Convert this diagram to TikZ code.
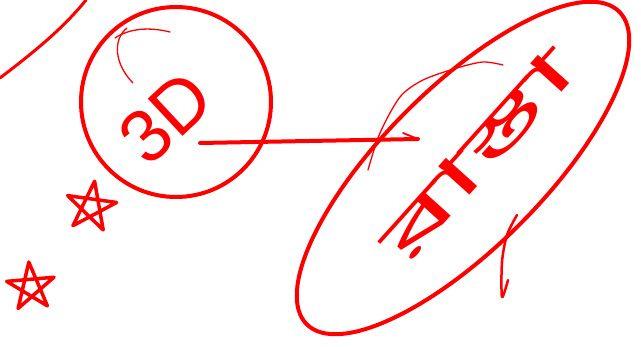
\documentclass[tikz,border=0pt]{standalone}
\usepackage{fontspec}
\newfontfamily\bnfont[Script=Bengali]{Hind Siliguri}
\setsansfont{Liberation Sans}
\usetikzlibrary{shapes.geometric}
\definecolor{pen}{RGB}{255,0,0}
\tikzset{
  heavy/.style={draw=pen, line width=4pt, line cap=round, line join=round},
  medium/.style={draw=pen, line width=2.5pt, line cap=round, line join=round},
  fine/.style={draw=pen, line width=1.3pt, line cap=round, line join=round},
  hand/.style={text=pen, inner sep=0pt},
}
\begin{document}
\begin{tikzpicture}[x=1pt,y=1pt]
\useasboundingbox (0,0) rectangle (641,-347);
% top-left stroke
\coordinate (tl1) at (0,-78);
\coordinate (tl2) at (86,0);
\draw[heavy, line width=3pt] (tl1) .. controls (30,-55) and (62,-30) .. (tl2);
% circle with 3D
\node[circle, heavy, minimum size=190pt, inner sep=0pt] (circ) at (176,-102) {};
\node[hand, rotate=43, font=\sffamily\fontsize{74}{74}\selectfont] (t3d) at (166,-118) {3D};
\draw[fine] (133,-83) .. controls (115,-65) and (112,-40) .. (127,-28);
\draw[fine] (115,-38) .. controls (130,-28) and (150,-27) .. (170,-32);
% ellipse with Bengali word
\node[ellipse, heavy, minimum width=442pt, minimum height=160pt, inner sep=0pt, rotate=45] (ell) at (463,-168) {};
\node[hand, rotate=48, xscale=2.6, font=\bnfont\fontsize{58}{58}\selectfont] (bn) at (478,-155) {রাস্তা};
\draw[fine] plot[smooth] coordinates {(368,-170) (380,-133) (400,-97) (423,-80) (457,-68) (483,-62) (503,-65)};
% connector
\coordinate (a1) at (200,-143);
\coordinate (a2) at (418,-139);
\coordinate (ah) at (403,-133);
\draw[heavy] (a1) -- (a2);
\draw[fine, line width=1.8pt] (ah) -- (a2);
% squiggle
\draw[medium] plot[smooth] coordinates {(517,-215) (507,-235) (502,-262) (502,-297) (508,-280)};
% stars
\coordinate (s1) at (91,-207);
\coordinate (s2) at (31,-287);
\draw[heavy, line width=3.5pt, shift={(s1)}, rotate=-8] (90:26) -- (234:26) -- (18:26) -- (162:26) -- (306:26) -- cycle;
\draw[heavy, line width=3.5pt, shift={(s2)}, rotate=5] (90:25) -- (234:25) -- (18:25) -- (162:25) -- (306:25) -- cycle;
\end{tikzpicture}
\end{document}
